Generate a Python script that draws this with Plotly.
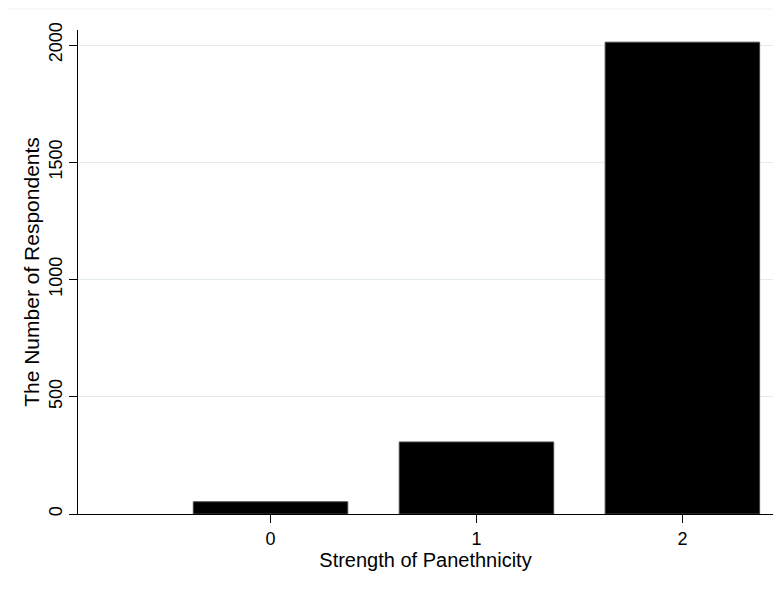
import plotly.graph_objects as go

categories = [0, 1, 2]
respondents = [52, 307, 2012]
y_ticks = [0, 500, 1000, 1500, 2000]
x_title = "Strength of Panethnicity"
y_title = "The Number of Respondents"

# page body has an 8px margin, so the figure is sized to fit the window
W, H = 773, 573
L, R, T, B = 70, 8, 22, 67

fig = go.Figure(go.Bar(
    x=categories, y=respondents, width=0.75,
    marker=dict(color="black", line=dict(color="#444444", width=1)),
))

family = "Liberation Sans, Arial, sans-serif"
tick_font = dict(family=family, size=18, color="black")
xtitle_font = dict(family=family, size=20, color="black")
ytitle_font = dict(family=family, size=21, color="black")

fig.update_layout(
    width=W, height=H,
    margin=dict(l=L, r=R, t=T, b=B, autoexpand=False),
    paper_bgcolor="white", plot_bgcolor="white",
    font=tick_font, showlegend=False,
    xaxis=dict(
        range=[-0.935, 2.44], tickvals=categories, ticktext=[str(c) for c in categories],
        showgrid=False, zeroline=False, showline=True, linecolor="black", linewidth=1,
        ticks="outside", ticklen=8, tickcolor="black", tickfont=tick_font,
        automargin=False,
        title=dict(text=x_title, font=xtitle_font, standoff=0),
    ),
    yaxis=dict(
        range=[0, 2064], tickvals=y_ticks, ticktext=[str(v) for v in y_ticks],
        tickangle=-90, showgrid=True, gridcolor="#e3edf0", gridwidth=1,
        zeroline=False, showline=True, linecolor="black", linewidth=1,
        ticks="outside", ticklen=8, tickcolor="black", tickfont=tick_font,
        automargin=False,
        title=dict(text=y_title, font=ytitle_font, standoff=0),
    ),
)

pw = W - L - R
ph = H - T - B
fig.add_shape(type="line", xref="paper", yref="paper",
              x0=-L / pw, x1=1 + R / pw, y0=1 + 21 / ph, y1=1 + 21 / ph,
              line=dict(color="#eef1f3", width=1))

fig.write_html("out.html")
